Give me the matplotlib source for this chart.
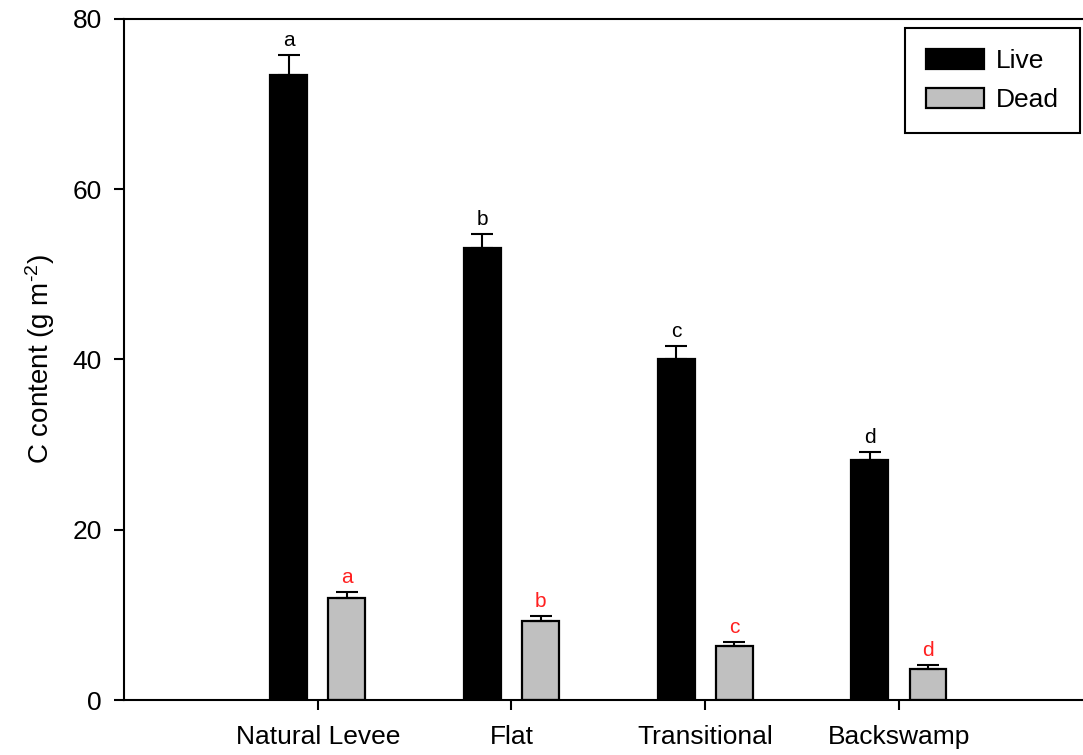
import matplotlib

matplotlib.use("Agg")
import matplotlib.pyplot as plt
import numpy as np

plt.rcParams["font.family"] = ["Liberation Sans", "DejaVu Sans"]
plt.rcParams["mathtext.fontset"] = "custom"
plt.rcParams["mathtext.rm"] = "Liberation Sans"
plt.rcParams["mathtext.default"] = "rm"

# C content per landform position
sites = ["Natural Levee", "Flat", "Transitional", "Backswamp"]
live = [73.4, 53.1, 40.1, 28.2]
live_err = [2.4, 1.6, 1.5, 0.9]
dead = [12.0, 9.3, 6.3, 3.6]
dead_err = [0.7, 0.6, 0.5, 0.5]
live_letters = ["a", "b", "c", "d"]
dead_letters = ["a", "b", "c", "d"]

W, H, dpi = 1083, 755, 100
fig = plt.figure(figsize=(W / dpi, H / dpi), dpi=dpi, facecolor="white")
ax = fig.add_axes([124 / W, 1 - 700 / H, 1 - 124 / W, (700 - 19) / H])

x = np.arange(len(sites))
width = 0.19
off = 0.15

ax.bar(x - off, live, width, color="black", edgecolor="black",
       linewidth=1.6, label="Live", zorder=2)
ax.bar(x + off, dead, width, color="#c0c0c0", edgecolor="black",
       linewidth=1.6, label="Dead", zorder=2)

zeros = [0] * len(sites)
ax.errorbar(x - off, live, yerr=[zeros, live_err], fmt="none",
            ecolor="black", elinewidth=1.5, capsize=8, capthick=1.5, zorder=3)
ax.errorbar(x + off, dead, yerr=[zeros, dead_err], fmt="none",
            ecolor="black", elinewidth=1.5, capsize=8, capthick=1.5, zorder=3)

for xi, v, e, s in zip(x - off, live, live_err, live_letters):
    ax.text(xi, v + e + 0.6, s, ha="center", va="bottom",
            fontsize=15, color="black")
for xi, v, e, s in zip(x + off, dead, dead_err, dead_letters):
    ax.text(xi, v + e + 0.6, s, ha="center", va="bottom",
            fontsize=15, color="#ff2020")

ax.set_xlim(-1.0, 3.95)
ax.set_ylim(0, 80)
ax.set_yticks([0, 20, 40, 60, 80])
ax.set_xticks(x)
ax.set_xticklabels(sites)
ax.tick_params(axis="both", direction="out", length=7, width=1.5,
               labelsize=19, colors="black")
ax.tick_params(axis="x", pad=11)
ax.tick_params(axis="y", pad=9)
ax.set_ylabel("C content (g m$^{\\text{-}2}$)", fontsize=20, labelpad=11)

for side in ["left", "bottom", "top"]:
    ax.spines[side].set_linewidth(1.5)
    ax.spines[side].set_color("black")
ax.spines["right"].set_visible(False)

leg = ax.legend(loc="upper right", bbox_to_anchor=(1080 / W, 1 - 28 / H),
                bbox_transform=fig.transFigure, borderaxespad=0,
                fancybox=False, edgecolor="black", framealpha=1,
                fontsize=19, handlelength=2.2, handleheight=0.8,
                handletextpad=0.45, labelspacing=0.55, borderpad=0.8)
leg.get_frame().set_linewidth(1.5)

fig.savefig("out.png", dpi=dpi, facecolor="white")
